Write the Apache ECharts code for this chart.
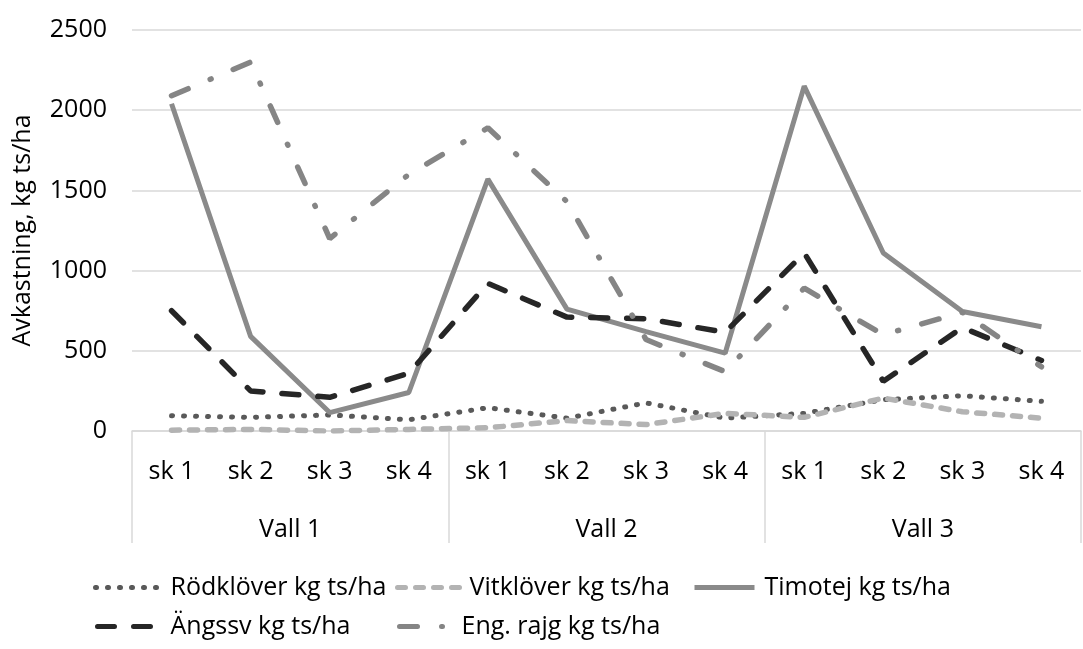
<!DOCTYPE html>
<html>
<head>
<meta charset="utf-8">
<script src="https://cdn.jsdelivr.net/npm/echarts@6/dist/echarts.min.js"></script>
<style>
  html, body { margin: 0; padding: 0; background: #fff; }
  #main { width: 1083px; height: 649px; }
</style>
</head>
<body>
<div id="main"></div>
<script>
// skördar per vall
var skLabels = ['sk 1', 'sk 2', 'sk 3', 'sk 4', 'sk 1', 'sk 2', 'sk 3', 'sk 4', 'sk 1', 'sk 2', 'sk 3', 'sk 4'];
var vallLabels = ['Vall 1', 'Vall 2', 'Vall 3'];

var rodklover = [95, 85, 100, 70, 145, 80, 175, 80, 110, 195, 220, 185];
var vitklover = [5, 10, 0, 10, 20, 65, 40, 110, 85, 205, 120, 80];
var timotej = [2040, 590, 115, 240, 1570, 760, 620, 485, 2150, 1110, 745, 650];
var angssv = [750, 250, 210, 360, 920, 710, 700, 615, 1110, 310, 645, 440];
var engRajg = [2090, 2300, 1200, 1600, 1890, 1430, 570, 370, 890, 600, 740, 400];

var FONT = '"Open Sans", sans-serif';
var chart = echarts.init(document.getElementById('main'));

function mkLegend(name, left, top, w) {
  return {
    data: [name],
    left: left,
    top: top,
    itemWidth: w,
    itemHeight: 14,
    selectedMode: false,
    itemStyle: { opacity: 0 },
    lineStyle: { width: 5 },
    textStyle: { fontFamily: FONT, fontSize: 25, color: '#000', padding: [0, 0, 0, 5] }
  };
}

var option = {
  backgroundColor: '#fff',
  animation: false,
  grid: { left: 132, right: 2, top: 30, bottom: 218 },
  legend: [
    mkLegend('Rödklöver kg ts/ha', 88, 570, 65),
    mkLegend('Vitklöver kg ts/ha', 390, 570, 62),
    mkLegend('Timotej kg ts/ha', 687, 570, 60),
    mkLegend('Ängssv kg ts/ha', 90, 609, 63),
    mkLegend('Eng. rajg kg ts/ha', 392, 609, 52)
  ],
  xAxis: [{
    type: 'category',
    data: skLabels,
    boundaryGap: true,
    axisLine: { show: false },
    axisTick: { show: false },
    axisLabel: { interval: 0, margin: 28, fontFamily: FONT, fontSize: 25, color: '#000' }
  }, {
    type: 'category',
    data: vallLabels,
    position: 'bottom',
    boundaryGap: true,
    axisLine: { show: true, lineStyle: { color: '#d9d9d9', width: 1.5 } },
    axisTick: { show: true, length: 112, lineStyle: { color: '#d9d9d9', width: 1.5 } },
    axisLabel: { interval: 0, margin: 86, fontFamily: FONT, fontSize: 25, color: '#000' }
  }],
  yAxis: {
    type: 'value',
    min: 0,
    max: 2500,
    interval: 500,
    name: 'Avkastning, kg ts/ha',
    nameLocation: 'middle',
    nameGap: 97,
    nameTextStyle: { fontFamily: FONT, fontSize: 25, color: '#000' },
    axisLine: { show: false },
    axisTick: { show: false },
    axisLabel: {
      margin: 25, fontFamily: FONT, fontSize: 25, color: '#000',
      formatter: function (v) { return String(v); }
    },
    splitLine: { lineStyle: { color: '#d9d9d9', width: 1.5 } }
  },
  series: [{
    name: 'Rödklöver kg ts/ha',
    type: 'line',
    data: rodklover,
    symbol: 'none',
    lineStyle: { color: '#595959', width: 5, type: [1, 11], cap: 'round' },
    itemStyle: { color: '#595959' }
  }, {
    name: 'Vitklöver kg ts/ha',
    type: 'line',
    data: vitklover,
    symbol: 'none',
    lineStyle: { color: '#b3b3b3', width: 5.5, type: [8, 10], cap: 'round' },
    itemStyle: { color: '#b3b3b3' }
  }, {
    name: 'Timotej kg ts/ha',
    type: 'line',
    data: timotej,
    symbol: 'none',
    lineStyle: { color: '#8a8a8a', width: 5 },
    itemStyle: { color: '#8a8a8a' }
  }, {
    name: 'Ängssv kg ts/ha',
    type: 'line',
    data: angssv,
    symbol: 'none',
    lineStyle: { color: '#262626', width: 5.5, type: [17, 19], cap: 'round' },
    itemStyle: { color: '#262626' }
  }, {
    name: 'Eng. rajg kg ts/ha',
    type: 'line',
    data: engRajg,
    symbol: 'none',
    lineStyle: { color: '#858585', width: 5.5, type: [18, 24, 1, 24], cap: 'round' },
    itemStyle: { color: '#858585' }
  }]
};

chart.setOption(option);
</script>
</body>
</html>
